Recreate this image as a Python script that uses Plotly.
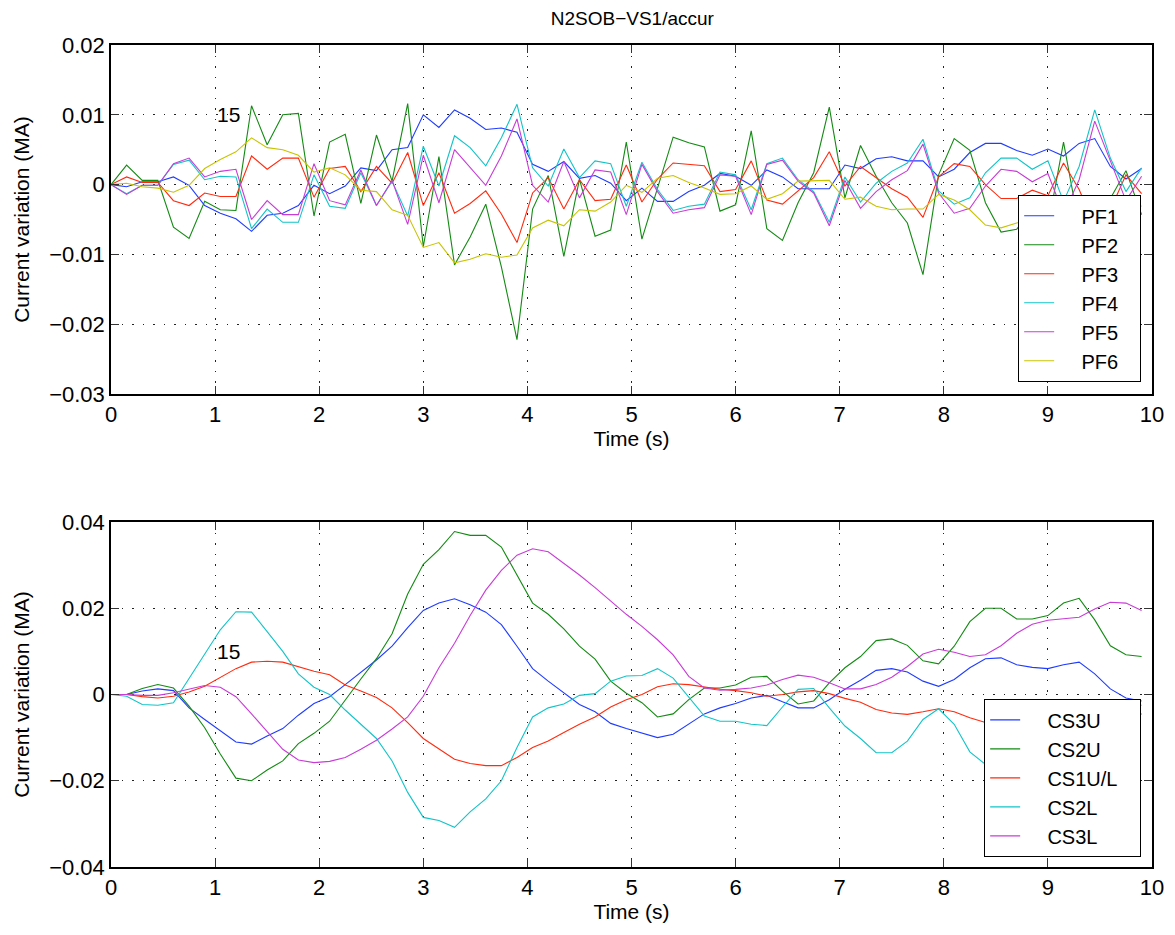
import plotly.graph_objects as go

# sample times (s)
t = [round(0.15 * i, 2) for i in range(67)]

# PF coil current variations, in units of 1e-3 MA
pf1 = [0, -0.3, 0.4, 0.4, 1.1, -0.1, -3.0, -4.1, -4.9, -6.7, -4.4, -4.1, -3.0, -0.1, -1.3, -0.2, 2.4,
       2.0, 5.0, 5.3, 10.0, 8.2, 10.7, 9.5, 7.9, 8.1, 7.5, 2.9, 1.9, 3.3, 0.9, 1.3, 0.2, -2.3,
       -0.5, -2.4, -2.4, -1.0, -0.1, 1.6, 1.2, -0.1, 2.1, 1.1, -0.6, -0.6, -0.6, 2.8, 2.3, 3.7,
       4.0, 3.4, 3.4, 1.1, 2.2, 4.6, 5.9, 5.9, 4.9, 4.2, 5.1, 4.1, 5.9, 6.6, 2.6, 0.8, 2.3]
pf2 = [0, 2.8, 0.6, 0.6, -6.1, -7.7, -2.4, -3.6, -3.7, 11.3, 5.7, 10.0, 10.2, -4.5, 6.1, 7.2, -2.7,
       7.1, 0.5, 11.6, -8.9, 4.0, -11.5, -7.5, -2.8, -11.8, -22.2, -3.5, 1.3, -10.3, 0.8, -7.4, -6.5, 6.1,
       -7.8, -0.5, 6.8, 6.0, 5.4, -3.8, -2.9, 7.7, -6.3, -8.0, -2.6, 1.7, 11.1, -1.9, 5.6, 1.2,
       -2.6, -5.5, -12.9, 1.4, 6.6, 4.9, -2.6, -6.8, -6.4, -3.4, -6.0, 6.1, -6.0, -5.0, -2.0, 2.0, -4.3]
pf3 = [0, 1.1, 0.3, 0.3, -2.3, -3.0, -1.2, -1.7, -1.7, 4.1, 2.2, 3.8, 3.8, -1.8, 2.3, 2.6, -1.0,
       2.6, 0.2, 4.6, -3.0, 1.7, -4.1, -2.7, -0.9, -4.2, -8.3, -1.2, 1.0, -3.5, 0.7, -2.3, -2.1, 2.8,
       -2.5, 0.8, 3.1, 2.9, 2.7, -1.0, -0.7, 3.4, -2.2, -2.8, -0.9, 1.0, 4.7, -0.2, 2.6, 1.0,
       -0.6, -1.8, -4.7, 1.1, 3.0, 2.6, 0.0, -2.0, -2.0, -0.8, -1.6, 3.1, -0.7, -6.0, -3.6, 1.4, -1.3]
pf4 = [0, -1.3, -0.1, -0.1, 2.9, 3.5, 0.7, 1.2, 1.1, -6.3, -3.5, -5.4, -5.4, 1.4, -3.1, -3.4, 1.7,
       -3.0, 0.5, -4.5, 5.5, -0.2, 7.0, 5.3, 2.7, 6.7, 11.5, 2.4, -0.2, 5.1, 1.0, 3.4, 3.0, -3.1,
       3.2, -0.7, -3.7, -3.1, -2.8, 1.8, 1.4, -3.6, 3.0, 3.8, 0.7, -1.0, -5.4, 1.1, -2.5, 0.2,
       1.9, 3.1, 6.5, -0.9, -2.8, -1.9, 1.7, 3.8, 3.8, 2.2, 3.4, -2.4, 2.6, 10.7, 3.8, -1.0, 2.4]
pf5 = [0, -1.4, -0.1, -0.1, 3.0, 3.8, 1.1, 1.9, 2.2, -5.0, -2.3, -4.3, -4.3, 3.0, -2.3, -2.9, 2.1,
       -3.0, 0.6, -5.7, 4.2, -2.6, 5.0, 2.5, -0.1, 4.1, 9.4, -0.1, -2.5, 3.3, -1.9, 2.1, 1.8, -4.3,
       2.9, -1.0, -4.1, -3.6, -3.3, 1.4, 1.2, -4.3, 2.9, 3.5, 0.5, -1.2, -5.9, 0.6, -3.4, -1.0,
       0.7, 2.0, 5.8, -1.2, -4.1, -3.4, -0.2, 2.2, 1.9, 0.4, 1.6, -4.2, 0.7, 9.1, 3.4, -2.3, 1.2]
pf6 = [0, 0.2, -0.3, -0.5, -1.1, -0.1, 2.3, 3.6, 4.7, 6.7, 5.3, 5.0, 4.2, 1.8, 2.4, 1.4, -0.8,
       -1.0, -3.6, -4.4, -9.0, -8.3, -11.2, -10.7, -9.9, -10.4, -10.1, -6.2, -5.1, -5.9, -3.6, -3.8, -2.5, -0.1,
       -1.1, 0.9, 1.3, 0.3, -0.5, -1.4, -1.3, -0.2, -2.1, -1.3, 0.5, 0.6, 0.6, -2.1, -1.8, -3.1,
       -3.6, -3.5, -3.5, -1.4, -2.2, -3.6, -5.8, -6.2, -5.5, -5.0, -5.0, -4.6, -4.2, -3.8, -3.4, -2.3, -3.1]

# CS module current variations, in units of 1e-3 MA
cs3u = [0, 0, 0.8, 1.3, 0.9, -3.1, -5.8, -8.5, -11.0, -11.5, -9.6, -7.9, -4.8, -2.1, -0.5, 2.3, 5.2,
        8.0, 11.2, 15.5, 19.5, 21.2, 22.2, 20.8, 19.1, 16.2, 11.2, 6.0, 3.1, 0.4, -2.3, -4.0, -6.7, -7.9,
        -9.0, -10.0, -9.2, -6.9, -4.5, -3.1, -2.1, -0.8, -0.2, -1.7, -3.1, -3.1, -1.2, 1.2, 3.3, 5.6,
        6.0, 5.2, 3.1, 1.9, 3.5, 6.2, 8.3, 8.5, 6.9, 6.3, 6.0, 6.9, 7.5, 4.8, 1.3, -0.8, -1.5]
cs2u = [0, 0, 1.4, 2.3, 1.5, -2.7, -7.7, -13.8, -19.4, -20.0, -17.5, -15.4, -11.4, -9.0, -6.2, -1.2, 3.6,
        8.3, 14.1, 23.3, 30.2, 33.6, 37.8, 36.9, 36.9, 34.2, 27.7, 21.2, 18.6, 15.2, 11.2, 8.2, 3.1, 0.3,
        -1.9, -5.2, -4.5, -1.2, 1.5, 1.5, 2.2, 4.0, 4.2, 0.8, -2.2, -1.5, 2.7, 6.2, 8.8, 12.5,
        12.9, 11.4, 7.8, 7.1, 11.2, 16.9, 20.0, 20.0, 17.5, 17.5, 18.3, 21.2, 22.3, 17.3, 11.3, 9.2, 8.8]
cs1ul = [0, 0, -0.5, -0.8, -0.4, 0.6, 1.9, 4.0, 6.0, 7.5, 7.7, 7.5, 6.5, 5.4, 4.6, 2.2, 0.8,
         -0.7, -3.1, -6.5, -10.2, -12.5, -15.0, -16.0, -16.5, -16.5, -14.6, -12.3, -10.8, -8.8, -6.9, -5.2, -2.9, -1.2,
         0.0, 1.8, 2.5, 2.3, 1.7, 1.2, 0.9, 0.4, -0.4, 0.0, 0.6, 0.9, 0.2, -0.9, -1.8, -3.5,
         -4.3, -4.6, -4.0, -3.3, -4.0, -5.4, -6.5, -7.0, -7.4, -7.6, -7.6, -7.4, -7.0, -6.4, -5.8, -5.4, -4.5]
cs2l = [0, -0.4, -2.3, -2.5, -1.9, 3.8, 9.4, 15.0, 19.2, 19.1, 14.6, 10.0, 4.8, 1.7, 0.0, -3.6, -6.9,
        -10.2, -15.4, -22.7, -28.5, -29.2, -30.8, -27.2, -24.2, -20.0, -12.3, -5.2, -3.1, -2.2, -0.2, 0.2, 3.1, 4.3,
        4.4, 6.0, 3.8, -0.6, -5.0, -6.2, -6.2, -6.9, -7.2, -2.9, 1.2, 1.4, -3.1, -7.3, -10.2, -13.5,
        -13.5, -10.8, -5.8, -3.3, -6.9, -13.3, -16.2, -17.5, -17.0, -15.5, -13.5, -11.5, -9.5, -7.5, -4.6, -2.2, -2.5]
cs3l = [0, 0, -0.2, -0.2, 0.4, 1.2, 2.1, 1.7, -0.5, -4.5, -8.7, -12.7, -15.2, -15.8, -15.5, -14.6, -12.7,
        -10.6, -8.0, -5.2, -0.4, 6.2, 11.9, 18.3, 24.2, 28.8, 32.3, 33.8, 33.1, 30.5, 27.7, 24.8, 21.7, 18.6,
        15.8, 12.7, 9.2, 4.2, 1.5, 1.0, 1.2, 1.5, 2.2, 3.5, 4.5, 4.0, 2.7, 1.3, 1.3, 2.3,
        4.0, 6.5, 9.4, 10.5, 9.8, 8.8, 9.2, 11.3, 14.2, 16.3, 17.2, 17.5, 17.9, 19.8, 21.4, 21.2, 19.5]

pf_names = ['PF1', 'PF2', 'PF3', 'PF4', 'PF5', 'PF6']
pf_data = [pf1, pf2, pf3, pf4, pf5, pf6]
cs_names = ['CS3U', 'CS2U', 'CS1U/L', 'CS2L', 'CS3L']
cs_data = [cs3u, cs2u, cs1ul, cs2l, cs3l]

colors = ['#1f3cff', '#138a13', '#ff2b0f', '#12c4c8', '#c83cd6', '#c8c400']

FONT = 'Liberation Sans, Arial, sans-serif'
NB = '\u00a0'  # padding so the legend boxes get the matlab width

fig = go.Figure()

for name, vals, col in zip(pf_names, pf_data, colors):
    fig.add_trace(go.Scatter(x=t, y=[v / 1000 for v in vals], mode='lines',
                             name=NB * 4 + name + NB * 3,
                             line=dict(color=col, width=1.1), xaxis='x', yaxis='y',
                             legend='legend'))

for name, vals, col in zip(cs_names, cs_data, colors):
    fig.add_trace(go.Scatter(x=t, y=[v / 1000 for v in vals], mode='lines',
                             name=NB * 4 + name + NB * 3,
                             line=dict(color=col, width=1.1), xaxis='x2', yaxis='y2',
                             legend='legend2'))

axis_style = dict(
    showline=True, linecolor='black', linewidth=1.5, mirror='ticks',
    ticks='inside', ticklen=8, tickcolor='#333', tickwidth=1,
    showgrid=True, gridcolor='#222', gridwidth=1, griddash='1.5px,9px',
    zeroline=False, tickfont=dict(family=FONT, size=22, color='black'),
)

# the page body adds 8px of margin, so the figure is 8px smaller than the window
fig.update_layout(
    width=1167, height=927,
    paper_bgcolor='white', plot_bgcolor='white',
    margin=dict(l=103, r=23, t=37, b=68),
    font=dict(family=FONT, size=21, color='black'),
    title=dict(text='N2SOB\u2212VS1/accur', x=0.535, xanchor='center', y=0.989, yanchor='middle',
               font=dict(family=FONT, size=19)),
    xaxis=dict(axis_style, domain=[0, 1], anchor='y', range=[0, 10], dtick=1,
               title=dict(text='Time (s)', standoff=5, font=dict(size=21))),
    yaxis=dict(axis_style, domain=[0.5754, 1], anchor='x', range=[-0.03, 0.02], dtick=0.01,
               title=dict(text='Current variation (MA)', standoff=14, font=dict(size=21))),
    xaxis2=dict(axis_style, domain=[0, 1], anchor='y2', range=[0, 10], dtick=1,
                title=dict(text='Time (s)', standoff=4, font=dict(size=21))),
    yaxis2=dict(axis_style, domain=[0, 0.4197], anchor='x2', range=[-0.04, 0.04], dtick=0.02,
                title=dict(text='Current variation (MA)', standoff=14, font=dict(size=21))),
    legend=dict(x=0.9894, y=0.590, xanchor='right', yanchor='bottom',
                bgcolor='white', bordercolor='black', borderwidth=1.2,
                font=dict(family=FONT, size=20)),
    legend2=dict(x=0.9894, y=0.012, xanchor='right', yanchor='bottom',
                 bgcolor='white', bordercolor='black', borderwidth=1.2,
                 font=dict(family=FONT, size=20)),
    showlegend=True,
)

fig.add_annotation(x=1, y=0.01, xref='x', yref='y', text='15', showarrow=False,
                   xanchor='left', yanchor='middle', font=dict(family=FONT, size=21))
fig.add_annotation(x=1, y=0.01, xref='x2', yref='y2', text='15', showarrow=False,
                   xanchor='left', yanchor='middle', font=dict(family=FONT, size=21))

fig.write_html("out.html")
